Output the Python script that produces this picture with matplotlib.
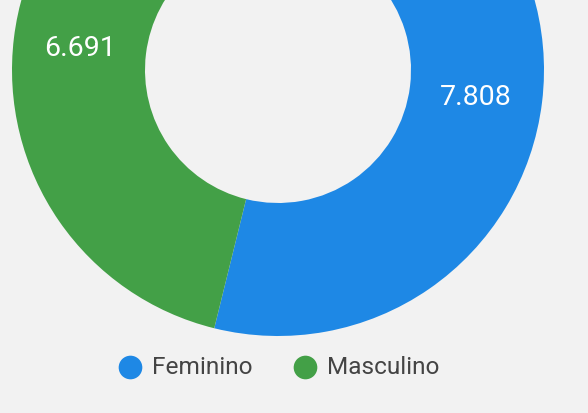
import numpy as np
import matplotlib.pyplot as plt

plt.rcParams['font.family'] = ['Roboto', 'DejaVu Sans']

categories = ['Feminino', 'Masculino']
values = [7.808, 6.691]
labels = ['7.808', '6.691']
colors = ['#1e88e5', '#43a047']

bg = '#f2f2f2'
fig = plt.figure(figsize=(5.88, 4.14), dpi=100, facecolor=bg)
ax = fig.add_axes([0, 0, 1, 1])
ax.set_facecolor(bg)

cx, cy, R = 278, 343, 266
wedges, _ = ax.pie(values, colors=colors, startangle=90, counterclock=False,
                   center=(cx, cy), radius=R, wedgeprops=dict(width=R * 0.5, linewidth=0),
                   frame=True)
ax.set_xlim(0, 588)
ax.set_ylim(0, 414)
ax.set_aspect('equal')
ax.axis('off')

for w, lab in zip(wedges, labels):
    ang = np.deg2rad((w.theta1 + w.theta2) / 2)
    ax.text(cx + 0.75 * R * np.cos(ang), cy + 0.75 * R * np.sin(ang) - 2, lab,
            color='white', fontsize=20.5, ha='center', va='center')

# legend drawn by hand: circle marker + label
leg_x = [130, 305]
leg_y = 46
for x, c, name in zip(leg_x, colors, categories):
    ax.scatter([x], [leg_y], s=290, color=c, linewidths=0, clip_on=False)
    ax.text(x + 22, leg_y, name, color='#444444', fontsize=17.6,
            ha='left', va='center')

fig.savefig('out.png', dpi=100, facecolor=bg)
